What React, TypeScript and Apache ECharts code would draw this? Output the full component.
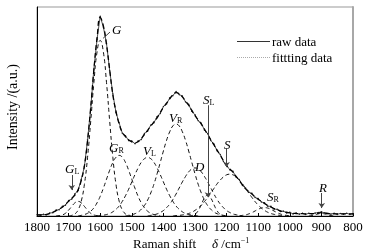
import React, { useEffect, useRef } from 'react';
import * as echarts from 'echarts';

// x grid: 1800 -> 800 cm^-1, step 10
const X_START = 1800;
const X_STEP = 10;

const rawData = [
  0.6, 0.4, 0.8, 0.6, 1.4, 1.6, 2.8, 3.0, 4.6, 5.2,
  7.4, 8.1, 10.6, 12.2, 17.5, 23.6, 36.4, 51.5, 70.4, 84.6,
  95.5, 90.4, 82.5, 69.6, 58.4, 49.5, 44.5, 39.6, 38.4, 36.1,
  35.9, 34.6, 35.9, 36.6, 39.5, 40.6, 43.5, 44.6, 47.5, 49.1,
  52.4, 53.6, 56.5, 57.6, 59.5, 58.1, 57.4, 54.6, 53.4, 50.1,
  48.4, 45.6, 44.4, 41.1, 39.4, 36.1, 34.4, 31.1, 29.4, 26.1,
  24.4, 22.1, 21.4, 18.6, 17.4, 14.6, 13.4, 11.4, 10.8, 8.9,
  8.3, 6.7, 6.3, 4.7, 4.6, 3.3, 3.2, 2.2, 2.3, 1.5,
  1.8, 1.0, 1.4, 0.9, 1.3, 0.8, 1.3, 1.0, 1.4, 1.6,
  2.0, 1.5, 1.2, 0.9, 1.3, 0.8, 1.2, 0.9, 1.3, 0.8,
  1.1,
];

const fitData = [
  0.5, 0.5, 0.6, 0.8, 1.2, 1.8, 2.5, 3.3, 4.2, 5.5,
  7.0, 8.5, 10.0, 12.5, 17.0, 24.0, 36.0, 52.0, 70.0, 85.0,
  95.0, 91.0, 82.0, 70.0, 58.0, 50.0, 44.0, 40.0, 38.0, 36.5,
  35.5, 35.0, 35.5, 37.0, 39.0, 41.0, 43.0, 45.0, 47.0, 49.5,
  52.0, 54.0, 56.0, 58.0, 59.0, 58.5, 57.0, 55.0, 53.0, 50.5,
  48.0, 46.0, 44.0, 41.5, 39.0, 36.5, 34.0, 31.5, 29.0, 26.5,
  24.0, 22.5, 21.0, 19.0, 17.0, 15.0, 13.0, 11.8, 10.5, 9.2,
  8.0, 7.0, 6.0, 5.0, 4.3, 3.6, 3.0, 2.5, 2.0, 1.8,
  1.5, 1.3, 1.2, 1.1, 1.1, 1.0, 1.1, 1.1, 1.2, 1.4,
  1.6, 1.4, 1.2, 1.1, 1.0, 1.0, 1.0, 1.0, 1.0, 1.0,
  1.0,
];

// fitted components (start wavenumber, values every 10 cm^-1 going down)
const GL_START = 1740;
const GL = [0, 0.2, 0.5, 1.3, 2.8, 4.6, 6.3, 7, 6.3, 4.6, 2.8, 1.3, 0.5, 0.2, 0];
const G_START = 1700;
const G = [0, 0.3, 1.0, 2.9, 7.1, 15.1, 28.1, 45.4, 63.8, 78.5, 84, 78.5, 63.8, 45.4, 28.1, 15.1, 7.1, 2.9, 1.0, 0.3, 0];
const GR_START = 1670;
const GR = [0, 0.3, 0.7, 1.3, 2.3, 3.9, 6.3, 9.4, 13.3, 17.6, 21.9, 25.6, 28.1, 29, 28.1, 25.6, 21.9, 17.6, 13.3, 9.4, 6.3, 3.9, 2.3, 1.3, 0.7, 0.3, 0];
const VL_START = 1610;
const VL = [0, 0.2, 0.4, 0.7, 1.2, 2, 3.2, 4.8, 7, 9.7, 12.8, 16.3, 19.8, 23, 25.7, 27.4, 28, 27.4, 25.7, 23, 19.8, 16.3, 12.8, 9.7, 7, 4.8, 3.2, 2, 1.2, 0.7, 0.4, 0.2, 0];
const VR_START = 1520;
const VR = [0, 0.3, 0.6, 1.1, 1.9, 3.2, 5, 7.6, 11, 15.2, 20.2, 25.6, 31.1, 36.2, 40.3, 43.1, 44, 43.1, 40.3, 36.2, 31.1, 25.6, 20.2, 15.2, 11, 7.6, 5, 3.2, 1.9, 1.1, 0.6, 0.3, 0];
const D_START = 1450;
const D = [0, 0.3, 0.6, 1, 1.7, 2.6, 4, 5.7, 7.9, 10.5, 13.4, 16.3, 18.9, 21.1, 22.5, 23, 22.5, 21.1, 18.9, 16.3, 13.4, 10.5, 7.9, 5.7, 4, 2.6, 1.7, 1, 0.6, 0.3, 0];
const SL_START = 1320;
const SL = [0, 0.2, 0.8, 2.5, 5.4, 8.6, 10, 8.6, 5.4, 2.5, 0.8, 0.2, 0];
const S_START = 1370;
const S = [0, 0.2, 0.3, 0.5, 0.8, 1.2, 1.8, 2.7, 3.8, 5.2, 6.9, 8.9, 11, 13.2, 15.4, 17.2, 18.7, 19.7, 20, 19.7, 18.7, 17.2, 15.4, 13.2, 11, 8.9, 6.9, 5.2, 3.8, 2.7, 1.8, 1.2, 0.8, 0.5, 0.3, 0.2, 0];
const SR_START = 1160;
const SR = [0, 0.3, 0.5, 1, 1.6, 2.4, 3.2, 3.8, 4, 3.8, 3.2, 2.4, 1.6, 1, 0.5, 0.3, 0];
const R_START = 940;
const R = [0, 0.2, 0.5, 1.0, 1.2, 1.0, 0.5, 0.2, 0];

// arrow annotations: [wavenumber, from, to]
const arrowGL = [1690, 19.6, 12.4];
const arrowSL = [1259, 53, 9];
const arrowS = [1200, 32.5, 23.4];
const arrowR = [899, 11, 3.8];
const leaderG = [1569, 88, 1591, 85];

const X_MIN = 800;
const X_MAX = 1800;
const X_INTERVAL = 100;

const SERIF = 'Liberation Serif, Times New Roman, serif';

function pairs(start: number, values: number[]) {
  return values.map((v, i) => [start - i * X_STEP, v]);
}

const components: [number, number[]][] = [
  [GL_START, GL], [G_START, G], [GR_START, GR], [VL_START, VL], [VR_START, VR],
  [D_START, D], [SL_START, SL], [S_START, S], [SR_START, SR], [R_START, R],
];

function label(x: number, y: number, main: string, sub?: string) {
  return {
    type: 'text',
    x,
    y,
    silent: true,
    style: {
      text: sub ? `{i|${main}}{s|${sub}}` : `{i|${main}}`,
      verticalAlign: 'middle',
      align: 'left',
      rich: {
        i: { fontFamily: SERIF, fontStyle: 'italic', fontSize: 13, fill: '#000', verticalAlign: 'bottom', lineHeight: 14 },
        s: { fontFamily: SERIF, fontSize: 8, fill: '#000', verticalAlign: 'bottom', lineHeight: 8 },
      },
    },
  };
}

export default function App() {
  const ref = useRef<HTMLDivElement>(null);
  useEffect(() => {
    if (!ref.current) return;
    const chart = echarts.init(ref.current, null, { renderer: 'svg' });
    const arrowLine = (a: number[]) => [
      { coord: [a[0], a[1]], symbol: 'none' },
      { coord: [a[0], a[2]], symbol: 'arrow' },
    ];
    const series: any[] = components.map(([start, vals], idx) => ({
      type: 'line',
      name: 'comp' + idx,
      data: pairs(start, vals),
      smooth: true,
      showSymbol: false,
      silent: true,
      lineStyle: { color: '#111', width: 1, type: [4, 3] },
      z: 2,
    }));
    series.push({
      type: 'line',
      name: 'raw data',
      data: pairs(X_START, rawData),
      showSymbol: true,
      showAllSymbol: true,
      symbol: 'circle',
      symbolSize: 1.4,
      itemStyle: { color: '#222' },
      silent: true,
      lineStyle: { color: '#222', width: 0.8 },
      z: 3,
    });
    series.push({
      type: 'line',
      name: 'fittting data',
      data: pairs(X_START, fitData),
      smooth: true,
      showSymbol: false,
      silent: true,
      lineStyle: { color: '#000', width: 1.3, type: [5, 3] },
      z: 4,
      markLine: {
        silent: true,
        animation: false,
        symbolSize: 5,
        label: { show: false },
        lineStyle: { color: '#444', width: 1, type: 'solid' },
        emphasis: { disabled: true },
        data: [
          arrowLine(arrowGL),
          arrowLine(arrowSL),
          arrowLine(arrowS),
          arrowLine(arrowR),
          [
            { coord: [leaderG[0], leaderG[1]], symbol: 'none' },
            { coord: [leaderG[2], leaderG[3]], symbol: 'none' },
          ],
        ],
      },
    });

    chart.setOption({
      animation: false,
      grid: {
        left: 37, right: 15, top: 7, bottom: 36,
        show: true, borderColor: '#999', borderWidth: 1, backgroundColor: 'transparent',
      },
      xAxis: {
        type: 'value',
        min: X_MIN,
        max: X_MAX,
        interval: X_INTERVAL,
        inverse: true,
        axisLine: { show: true, lineStyle: { color: '#000', width: 1 } },
        axisTick: { show: true, inside: true, length: 3, lineStyle: { color: '#000' } },
        axisLabel: { fontFamily: SERIF, fontSize: 13, color: '#000', margin: 4, formatter: (v: number) => String(v) },
        splitLine: { show: false },
      },
      yAxis: [
        {
          type: 'value', min: 0, max: 100,
          axisLine: { show: true, lineStyle: { color: '#000', width: 1 } },
          axisTick: { show: false }, axisLabel: { show: false }, splitLine: { show: false },
        },
        {
          type: 'value', min: 0, max: 100, position: 'right',
          axisLine: { show: true, lineStyle: { color: '#a8a8a8', width: 2 } },
          axisTick: { show: false }, axisLabel: { show: false }, splitLine: { show: false },
        },
      ],
      series,
      graphic: [
        // legend
        { type: 'line', shape: { x1: 237, y1: 41.5, x2: 270, y2: 41.5 }, style: { stroke: '#333', lineWidth: 1 }, silent: true },
        { type: 'text', x: 272, y: 41, silent: true, style: { text: 'raw data', font: `13px ${SERIF}`, fill: '#000', verticalAlign: 'middle' } },
        { type: 'line', shape: { x1: 237, y1: 57.5, x2: 270, y2: 57.5 }, style: { stroke: '#aaa', lineWidth: 1, lineDash: [1, 1] }, silent: true },
        { type: 'text', x: 272, y: 57, silent: true, style: { text: 'fittting data', font: `13px ${SERIF}`, fill: '#000', verticalAlign: 'middle' } },
        // axis names
        {
          type: 'text', x: 12, y: 107, rotation: Math.PI / 2, silent: true,
          style: { text: 'Intensity /(a.u.)', font: `14px ${SERIF}`, fill: '#000', align: 'center', verticalAlign: 'middle' },
        },
        { type: 'text', x: 133, y: 243, silent: true, style: { text: 'Raman shift', font: `13px ${SERIF}`, fill: '#000', verticalAlign: 'middle' } },
        {
          type: 'text', x: 212, y: 243, silent: true,
          style: {
            text: '{i|δ}{n| /cm}{p|−1}',
            verticalAlign: 'middle',
            rich: {
              i: { fontFamily: SERIF, fontStyle: 'italic', fontSize: 13, fill: '#000', verticalAlign: 'bottom', lineHeight: 14 },
              n: { fontFamily: SERIF, fontSize: 13, fill: '#000', verticalAlign: 'bottom', lineHeight: 14 },
              p: { fontFamily: SERIF, fontSize: 8, fill: '#000', verticalAlign: 'top', lineHeight: 8 },
            },
          },
        },
        // peak labels
        label(112, 29, 'G'),
        label(65, 168, 'G', 'L'),
        label(109, 147, 'G', 'R'),
        label(143, 150, 'V', 'L'),
        label(169, 117, 'V', 'R'),
        label(195, 166, 'D'),
        label(203, 99, 'S', 'L'),
        label(224, 144, 'S'),
        label(267, 196, 'S', 'R'),
        label(319, 187, 'R'),
      ],
    });
    return () => chart.dispose();
  }, []);
  return <div ref={ref} style={{ position: 'fixed', left: 0, top: 0, width: 368, height: 252 }} />;
}
